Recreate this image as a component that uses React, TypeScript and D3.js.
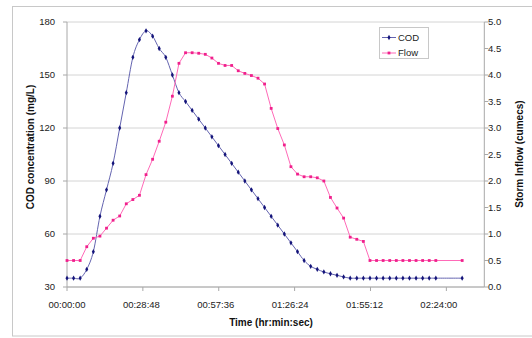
import React from "react";
import * as d3 from "d3";

// sampling times in minutes from the start of the storm
const minutes = [
  0, 2.5, 5, 7.5, 10, 12.5, 15, 17.5, 20, 22.5, 25, 27.5, 30, 32.5, 35, 37.5,
  40, 42.5, 45, 47.5, 50, 52.5, 55, 57.5, 60, 62.5, 65, 67.5, 70, 72.5, 75,
  77.5, 80, 82.5, 85, 87.5, 90, 92.5, 95, 97.5, 100, 102.5, 105, 107.5, 110,
  112.5, 115, 117.5, 120, 122.5, 125, 127.5, 130, 132.5, 135, 137.5, 140, 150,
];

const cod = [
  35, 35, 35, 40, 50, 70, 85, 100, 120, 140, 160, 170, 175, 172, 165, 160,
  150, 140, 135, 130, 125, 120, 115, 110, 105, 100, 95, 90, 85, 80, 75, 70,
  65, 60, 55, 50, 45, 41.7, 40, 38.5, 37.5, 36.6, 35.7, 35, 35, 35, 35, 35,
  35, 35, 35, 35, 35, 35, 35, 35, 35, 35,
];

const flow = [
  0.5, 0.5, 0.5, 0.76, 0.92, 0.96, 1.11, 1.26, 1.34, 1.57, 1.65, 1.73, 2.12,
  2.41, 2.75, 3.11, 3.6, 4.22, 4.42, 4.42, 4.41, 4.39, 4.32, 4.22, 4.18, 4.18,
  4.08, 4.03, 3.99, 3.94, 3.83, 3.37, 2.99, 2.68, 2.27, 2.13, 2.08, 2.08, 2.06,
  2.0, 1.69, 1.49, 1.3, 0.94, 0.9, 0.86, 0.5, 0.5, 0.5, 0.5, 0.5, 0.5, 0.5,
  0.5, 0.5, 0.5, 0.5, 0.5,
];

const timeTicks = [0, 28.8, 57.6, 86.4, 115.2, 144];
const timeLabels = ["00:00:00", "00:28:48", "00:57:36", "01:26:24", "01:55:12", "02:24:00"];
const codTicks = [30, 60, 90, 120, 150, 180];
const flowTicks = [0, 0.5, 1, 1.5, 2, 2.5, 3, 3.5, 4, 4.5, 5];

const codLine = "#6464b0";
const codMark = "#14147a";
const flowLine = "#ff6ab8";
const flowMark = "#f0208c";
const font = "Arial, 'Liberation Sans', sans-serif";

export default function App() {
  const width = 532;
  const height = 338;
  const left = 67;
  const right = 484.3;
  const top = 22;
  const bottom = 287;

  const x = d3.scaleLinear().domain([0, 158.4]).range([left, right]);
  const yCod = d3.scaleLinear().domain([30, 180]).range([bottom, top]);
  const yFlow = d3.scaleLinear().domain([0, 5]).range([bottom, top]);

  const codPath = d3
    .line<number>()
    .x((_, i) => x(minutes[i]))
    .y((d) => yCod(d))
    .curve(d3.curveCardinal.tension(0))(cod);

  const flowPath = d3
    .line<number>()
    .x((_, i) => x(minutes[i]))
    .y((d) => yFlow(d))(flow);

  const diamond = d3.symbol(d3.symbolDiamond, 8)()!;

  return (
    <svg
      width={width}
      height={height}
      style={{ position: "absolute", left: 0, top: 0, fontFamily: font }}
    >
      <rect x={0} y={0} width={width} height={height} fill="#fff" />
      <rect x={12.5} y={6.5} width={540} height={329.5} fill="none" stroke="#c8c8c8" />

      {/* gridlines */}
      {codTicks.map((t) => (
        <line key={t} x1={left} x2={right} y1={yCod(t)} y2={yCod(t)} stroke="#d4d4d4" />
      ))}

      {/* axes */}
      <line x1={left} x2={left} y1={top} y2={bottom} stroke="#a8a8a8" />
      <line x1={right} x2={right} y1={top} y2={bottom} stroke="#a8a8a8" />
      <line x1={left} x2={right} y1={bottom} y2={bottom} stroke="#a8a8a8" />

      {codTicks.map((t) => (
        <g key={t}>
          <line x1={left - 4} x2={left} y1={yCod(t)} y2={yCod(t)} stroke="#a8a8a8" />
          <text x={55} y={yCod(t)} dy="0.35em" textAnchor="end" fontSize={9.5} fill="#222">
            {t}
          </text>
        </g>
      ))}

      {flowTicks.map((t) => (
        <g key={t}>
          <line x1={right} x2={right + 4} y1={yFlow(t)} y2={yFlow(t)} stroke="#a8a8a8" />
          <text x={488} y={yFlow(t)} dy="0.35em" fontSize={9.5} fill="#222">
            {t.toFixed(1)}
          </text>
        </g>
      ))}

      {timeTicks.map((t, i) => (
        <g key={t}>
          <line x1={x(t)} x2={x(t)} y1={bottom} y2={bottom + 4} stroke="#a8a8a8" />
          <text x={x(t) - i * 1.5} y={308} textAnchor="middle" fontSize={9.5} fill="#222">
            {timeLabels[i]}
          </text>
        </g>
      ))}

      {/* series */}
      <path d={codPath!} fill="none" stroke={codLine} strokeWidth={1} />
      <path d={flowPath!} fill="none" stroke={flowLine} strokeWidth={1} />

      {cod.map((d, i) => (
        <path key={i} d={diamond} transform={`translate(${x(minutes[i])},${yCod(d)})`} fill={codMark} />
      ))}
      {flow.map((d, i) => (
        <rect
          key={i}
          x={x(minutes[i]) - 1.4}
          y={yFlow(d) - 1.4}
          width={2.8}
          height={2.8}
          fill={flowMark}
        />
      ))}

      {/* axis titles */}
      <text x={271} y={326} textAnchor="middle" fontSize={10} fontWeight="bold" fill="#111">
        Time (hr:min:sec)
      </text>
      <text
        transform="translate(34,147) rotate(-90)"
        textAnchor="middle"
        fontSize={10}
        fontWeight="bold"
        fill="#111"
      >
        COD concentration (mg/L)
      </text>
      <text
        transform="translate(523,154) rotate(-90)"
        textAnchor="middle"
        fontSize={10}
        fontWeight="bold"
        fill="#111"
      >
        Storm Inflow (cumecs)
      </text>

      {/* legend */}
      <rect x={379.5} y={27.5} width={49} height={31} fill="#fff" stroke="#c8c8c8" />
      <line x1={382} x2={396} y1={37.5} y2={37.5} stroke={codLine} />
      <path d={diamond} transform="translate(389,37.5)" fill={codMark} />
      <text x={398} y={37.5} dy="0.35em" fontSize={9.5} fill="#222">
        COD
      </text>
      <line x1={382} x2={396} y1={53} y2={53} stroke={flowLine} />
      <rect x={387.6} y={51.6} width={2.8} height={2.8} fill={flowMark} />
      <text x={398} y={53} dy="0.35em" fontSize={9.5} fill="#222">
        Flow
      </text>
    </svg>
  );
}
